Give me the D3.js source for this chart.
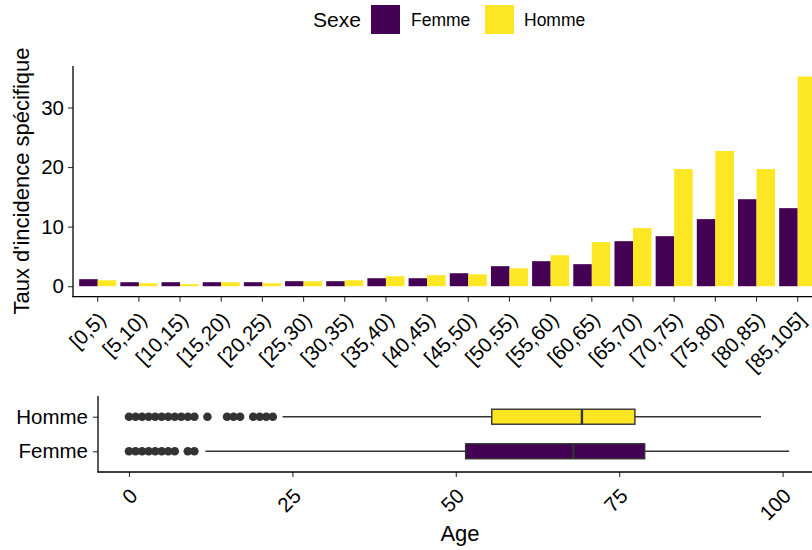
<!DOCTYPE html>
<html><head><meta charset="utf-8">
<script src="https://cdn.jsdelivr.net/npm/d3@7"></script>
<style>
body{margin:0;background:#fff}
text{font-family:"Liberation Sans",Arial,Helvetica,sans-serif;fill:#000}
</style>
</head><body>
<svg id="chart" width="812" height="550"></svg>
<script>
// ---------- data ----------
const categories = ["[0,5)","[5,10)","[10,15)","[15,20)","[20,25)","[25,30)","[30,35)","[35,40)","[40,45)",
  "[45,50)","[50,55)","[55,60)","[60,65)","[65,70)","[70,75)","[75,80)","[80,85)","[85,105]"];
const femme = [1.18,0.67,0.67,0.67,0.67,0.84,0.84,1.34,1.34,2.18,3.36,4.2,3.7,7.56,8.4,11.26,14.6,13.1];
const homme = [1.0,0.5,0.34,0.67,0.5,0.84,1.0,1.68,1.85,2.0,3.0,5.2,7.4,9.75,19.66,22.7,19.66,35.2];
const sexes = ["Femme","Homme"];
const sexColors = ["#440154","#FDE725"];
const yTicks = [0,10,20,30];

const boxGroups = ["Homme","Femme"];
const boxQ1 = [55.5,51.5];
const boxMedian = [69.3,68.0];
const boxQ3 = [77.4,78.9];
const whiskerLow = [23.5,11.7];
const whiskerHigh = [96.7,101.0];
const outliersHomme = [0,1,2,3,4,5,6,7,8,9,10,12,15,16,17,19,20,21,22];
const outliersFemme = [0,1,2,3,4,5,6,7,9,10];
const ageTicks = [0,25,50,75,100];

// ---------- setup ----------
const svg = d3.select("#chart");
const axisFont = 20.5, titleFont = 22;
const tickColor = "#333333";

// ---------- legend ----------
const lg = svg.append("g");
lg.append("text").attr("x",313).attr("y",27).attr("font-size",21).text("Sexe");
const legendKeys = [{x:371, tx:411},{x:485, tx:524}];
sexes.forEach((s,i)=>{
  lg.append("rect").attr("x",legendKeys[i].x).attr("y",5).attr("width",29).attr("height",29).attr("fill",sexColors[i]);
  lg.append("text").attr("x",legendKeys[i].tx).attr("y",26).attr("font-size",17.5).text(s);
});

// ---------- top bar panel ----------
const topP = {l:73, r:822.4, t:66, b:296.7};
const x = d3.scaleBand().domain(categories).range([topP.l, topP.r]).paddingInner(0.1).paddingOuter(0.15);
const xs = d3.scaleBand().domain(sexes).range([0, x.bandwidth()]);
const y = d3.scaleLinear().domain([-1.76, 36.96]).range([topP.b, topP.t]);
const color = d3.scaleOrdinal().domain(sexes).range(sexColors);

const rows = categories.map((c,i)=>({cat:c, vals:[{s:"Femme",v:femme[i]},{s:"Homme",v:homme[i]}]}));
svg.append("g").selectAll("g").data(rows).join("g")
  .attr("transform", d=>`translate(${x(d.cat)},0)`)
  .selectAll("rect").data(d=>d.vals).join("rect")
  .attr("x", d=>xs(d.s)).attr("width", xs.bandwidth())
  .attr("y", d=>y(Math.max(0,d.v))).attr("height", d=>Math.abs(y(d.v)-y(0)))
  .attr("fill", d=>color(d.s));

function styleAxis(g){
  g.selectAll(".tick line").attr("stroke",tickColor).attr("stroke-width",1.1);
  g.selectAll(".tick text").attr("font-size",axisFont).attr("fill","#000")
   .attr("font-family","'Liberation Sans',Arial,sans-serif");
  g.select(".domain").remove();
}
function rotateLabels(g, dyPx){
  g.selectAll(".tick text").attr("x",0).attr("y",0).attr("dy","0.71em")
   .attr("text-anchor","end").attr("transform",`translate(-1,${dyPx}) rotate(-45)`);
}

const yAxisG = svg.append("g").attr("transform",`translate(${topP.l},0)`)
  .call(d3.axisLeft(y).tickValues(yTicks).tickSize(5).tickPadding(4).tickSizeOuter(0));
styleAxis(yAxisG);

const xAxisG = svg.append("g").attr("transform",`translate(0,${topP.b})`)
  .call(d3.axisBottom(x).tickSize(5).tickPadding(3).tickSizeOuter(0));
styleAxis(xAxisG);
rotateLabels(xAxisG, 14);

svg.append("line").attr("x1",topP.l).attr("x2",topP.l).attr("y1",topP.t).attr("y2",topP.b+0.5)
  .attr("stroke","#000").attr("stroke-width",1.3);
svg.append("line").attr("x1",topP.l-0.5).attr("x2",812).attr("y1",topP.b).attr("y2",topP.b)
  .attr("stroke","#000").attr("stroke-width",1.3);

svg.append("text").attr("transform","translate(29,181) rotate(-90)").attr("text-anchor","middle")
  .attr("font-size",titleFont).text("Taux d'incidence spécifique");

// ---------- bottom box panel ----------
const botP = {l:98, r:822, t:396, b:472};
const xa = d3.scaleLinear().domain([0,100]).range([129, 782.6]);
const yb = d3.scalePoint().domain(boxGroups).range([botP.t, botP.b]).padding(0.6);
const boxColor = d3.scaleOrdinal().domain(sexes).range(sexColors);
const boxH = 15;

const boxes = boxGroups.map((g,i)=>({g, q1:boxQ1[i], med:boxMedian[i], q3:boxQ3[i], lo:whiskerLow[i], hi:whiskerHigh[i],
  out: g==="Homme" ? outliersHomme : outliersFemme}));

const bg = svg.append("g").selectAll("g").data(boxes).join("g");
bg.append("line").attr("x1",d=>xa(d.lo)).attr("x2",d=>xa(d.q1)).attr("y1",d=>yb(d.g)).attr("y2",d=>yb(d.g))
  .attr("stroke","#333").attr("stroke-width",1.3);
bg.append("line").attr("x1",d=>xa(d.q3)).attr("x2",d=>xa(d.hi)).attr("y1",d=>yb(d.g)).attr("y2",d=>yb(d.g))
  .attr("stroke","#333").attr("stroke-width",1.3);
bg.append("rect").attr("x",d=>xa(d.q1)).attr("width",d=>xa(d.q3)-xa(d.q1))
  .attr("y",d=>yb(d.g)-boxH/2).attr("height",boxH)
  .attr("fill",d=>boxColor(d.g)).attr("stroke","#333").attr("stroke-width",1.4);
bg.append("line").attr("x1",d=>xa(d.med)).attr("x2",d=>xa(d.med)).attr("y1",d=>yb(d.g)-boxH/2).attr("y2",d=>yb(d.g)+boxH/2)
  .attr("stroke","#333").attr("stroke-width",2.4);
bg.each(function(d){
  d3.select(this).selectAll("circle").data(d.out).join("circle")
    .attr("cx",v=>xa(v)).attr("cy",yb(d.g)).attr("r",4.3).attr("fill","#333");
});

const ybAxis = svg.append("g").attr("transform",`translate(${botP.l},0)`)
  .call(d3.axisLeft(yb).tickSize(5).tickPadding(5).tickSizeOuter(0));
styleAxis(ybAxis);

const xaAxis = svg.append("g").attr("transform",`translate(0,${botP.b})`)
  .call(d3.axisBottom(xa).tickValues(ageTicks).tickSize(5).tickPadding(3).tickSizeOuter(0));
styleAxis(xaAxis);
rotateLabels(xaAxis, 15);

svg.append("line").attr("x1",botP.l).attr("x2",botP.l).attr("y1",botP.t).attr("y2",botP.b+0.5)
  .attr("stroke","#000").attr("stroke-width",1.3);
svg.append("line").attr("x1",botP.l-0.5).attr("x2",812).attr("y1",botP.b).attr("y2",botP.b)
  .attr("stroke","#000").attr("stroke-width",1.3);

svg.append("text").attr("x",(botP.l+botP.r)/2).attr("y",541).attr("text-anchor","middle")
  .attr("font-size",titleFont).text("Age");
</script>
</body></html>
